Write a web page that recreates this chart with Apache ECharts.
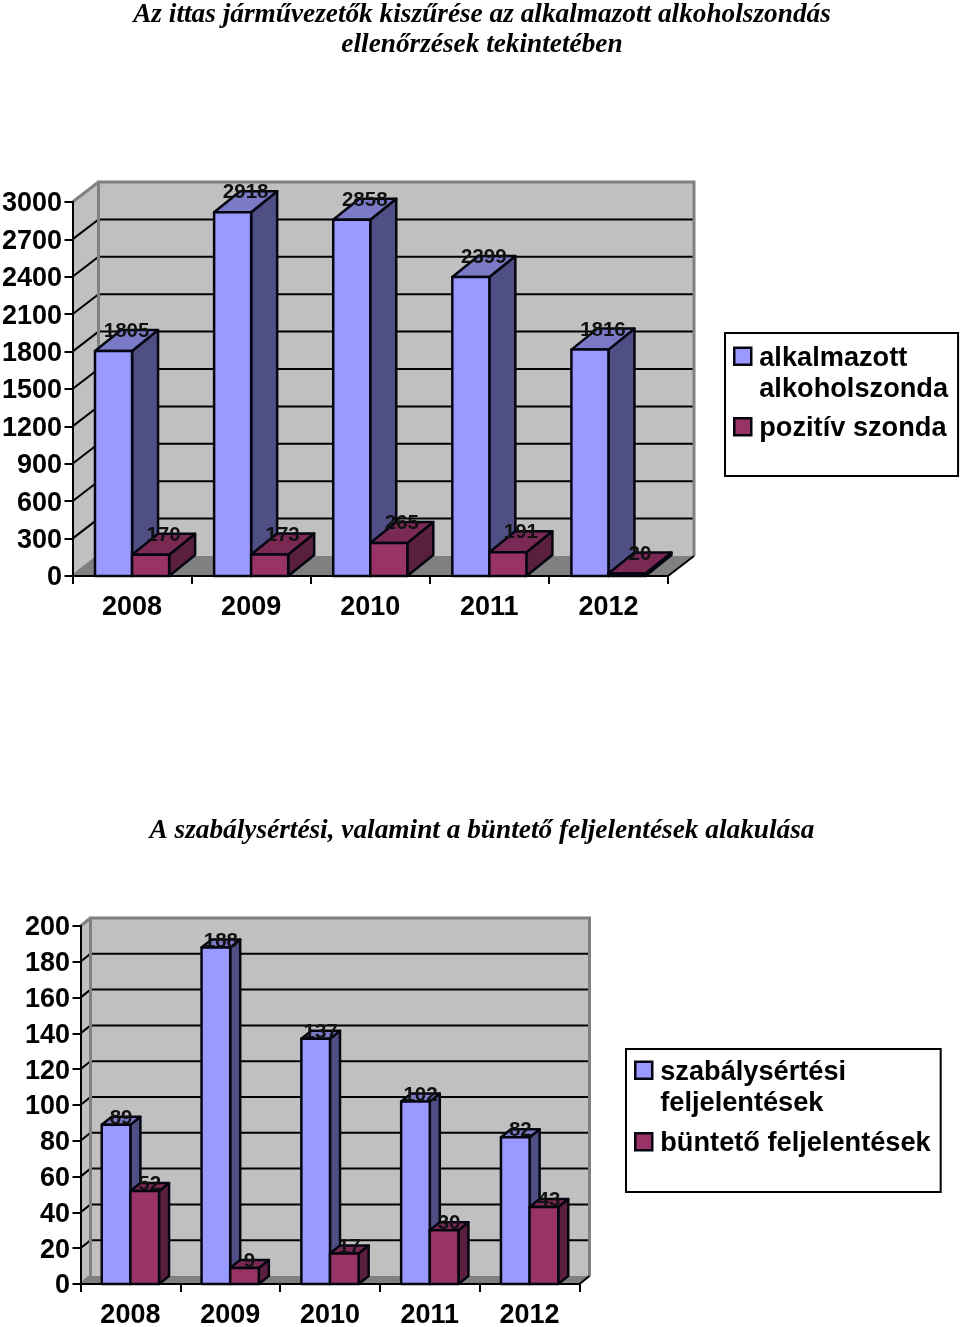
<!DOCTYPE html>
<html>
<head>
<meta charset="utf-8">
<style>
    html, body { margin: 0; padding: 0; background: #fff; }
    #chart { width: 960px; height: 1327px; }
</style>
<script src="https://cdn.jsdelivr.net/npm/echarts@6/dist/echarts.min.js"></script>
</head>
<body>
<div id="chart"></div>
<script>
const years = ['2008', '2009', '2010', '2011', '2012'];

// upper chart
const alkalmazott = [1805, 2918, 2858, 2399, 1816];
const pozitiv = [170, 173, 265, 191, 20];
const ticksTop = [0, 300, 600, 900, 1200, 1500, 1800, 2100, 2400, 2700, 3000];

// lower chart
const szabalysertesi = [89, 188, 137, 102, 82];
const bunteto = [52, 9, 17, 30, 43];
const ticksBottom = [0, 20, 40, 60, 80, 100, 120, 140, 160, 180, 200];

const FONT = '"Liberation Sans", Arial, sans-serif';
const BLUE = { front: '#9999ff', side: '#4f4f85', top: '#7a7ac6' };
const RED = { front: '#993366', side: '#5a1f3e', top: '#7a2955' };

// back wall, side wall, floor and the grid lines, all hung on the axis scales
function wallSeries(axisIndex, ticks, dx, dy) {
    return {
        type: 'custom',
        xAxisIndex: axisIndex,
        yAxisIndex: axisIndex,
        z: 1,
        silent: true,
        data: [[0, 0]],
        encode: { x: 0, y: 1 },
        renderItem(params, api) {
            const band = api.size([1, 0])[0];
            const x0 = api.coord([0, 0])[0] - band / 2;
            const x1 = x0 + band * years.length;
            const y0 = api.coord([0, ticks[0]])[1];
            const y1 = api.coord([0, ticks[ticks.length - 1]])[1];
            const children = [
                { type: 'polygon', shape: { points: [[x0, y0], [x1, y0], [x1 + dx, y0 + dy], [x0 + dx, y0 + dy]] }, style: { fill: '#808080' } },
                { type: 'polygon', shape: { points: [[x0, y0], [x0 + dx, y0 + dy], [x0 + dx, y1 + dy], [x0, y1]] }, style: { fill: '#c0c0c0' } },
                { type: 'polygon', shape: { points: [[x0 + dx, y0 + dy], [x1 + dx, y0 + dy], [x1 + dx, y1 + dy], [x0 + dx, y1 + dy]] }, style: { fill: '#c0c0c0' } }
            ];
            ticks.slice(1, -1).forEach(t => {
                const y = api.coord([0, t])[1];
                children.push({ type: 'polyline', shape: { points: [[x0, y], [x0 + dx, y + dy], [x1 + dx, y + dy]] }, style: { fill: null, stroke: '#000', lineWidth: 2 } });
            });
            children.push(
                { type: 'polyline', shape: { points: [[x0, y0], [x0 + dx, y0 + dy], [x0 + dx, y1 + dy], [x1 + dx, y1 + dy], [x1 + dx, y0 + dy]] }, style: { fill: null, stroke: '#808080', lineWidth: 3 } },
                { type: 'polyline', shape: { points: [[x0, y1], [x0 + dx, y1 + dy]] }, style: { fill: null, stroke: '#808080', lineWidth: 3 } },
                { type: 'polyline', shape: { points: [[x1, y0], [x1 + dx, y0 + dy]] }, style: { fill: null, stroke: '#000', lineWidth: 2 } }
            );
            return { type: 'group', children };
        }
    };
}

// one series of 3d-looking bars, side < 0 is left of the category centre
function barSeries(name, values, axisIndex, colors, side, ratio, dx, dy) {
    return {
        name,
        type: 'custom',
        xAxisIndex: axisIndex,
        yAxisIndex: axisIndex,
        z: 6,
        itemStyle: { color: colors.front },
        data: values.map((v, i) => [i, v]),
        encode: { x: 0, y: 1 },
        renderItem(params, api) {
            const top = api.coord([api.value(0), api.value(1)]);
            const base = api.coord([api.value(0), 0]);
            const w = api.size([1, 0])[0] * ratio;
            const xa = side < 0 ? top[0] - w : top[0];
            const xb = xa + w;
            const edge = { stroke: '#050510', lineWidth: 2.5, lineJoin: 'round' };
            return {
                type: 'group',
                children: [
                    { type: 'polygon', shape: { points: [[xb, base[1]], [xb + dx, base[1] + dy], [xb + dx, top[1] + dy], [xb, top[1]]] }, style: { fill: colors.side, ...edge } },
                    { type: 'polygon', shape: { points: [[xa, top[1]], [xb, top[1]], [xb + dx, top[1] + dy], [xa + dx, top[1] + dy]] }, style: { fill: colors.top, ...edge } },
                    { type: 'rect', shape: { x: xa, y: top[1], width: w, height: base[1] - top[1] }, style: { fill: colors.front, ...edge } },
                    { type: 'text', z2: 100, style: { x: (xa + xb + dx) / 2, y: top[1] + dy + 1.5, text: String(api.value(1)), align: 'center', verticalAlign: 'middle', fill: '#111', font: 'bold 20.5px ' + FONT } }
                ]
            };
        }
    };
}

// icons are as tall as two text lines, the square sits on the first line or in the middle
const iconFirstLine = 'path://M0 0L0 0M0 5H17V22H0ZM0 62L0 62';
const iconMiddle = 'path://M0 0L0 0M0 20.5H17V37.5H0ZM0 62L0 62';

function legendBox(left, top, names, pad, gap) {
    return {
        left,
        top,
        orient: 'vertical',
        selectedMode: false,
        itemWidth: 17,
        itemHeight: 62,
        itemGap: gap,
        padding: pad,
        borderColor: '#000',
        borderWidth: 2,
        backgroundColor: '#fff',
        itemStyle: { borderColor: '#050510', borderWidth: 2.5 },
        textStyle: { fontFamily: FONT, fontSize: 27.2, fontWeight: 'bold', color: '#000', lineHeight: 31, padding: [0, 0, 0, 3] },
        data: [{ name: names[0], icon: iconFirstLine }, { name: names[1], icon: iconMiddle }]
    };
}

function xAxis(gridIndex) {
    return {
        type: 'category',
        gridIndex,
        data: years,
        z: 5,
        axisLine: { lineStyle: { color: '#000', width: 2 } },
        axisTick: { show: true, length: 8, lineStyle: { color: '#000', width: 2 } },
        axisLabel: { color: '#000', fontFamily: FONT, fontSize: 27, fontWeight: 'bold', margin: 18, interval: 0 }
    };
}

function yAxis(gridIndex, ticks) {
    return {
        type: 'value',
        gridIndex,
        min: ticks[0],
        max: ticks[ticks.length - 1],
        interval: ticks[1] - ticks[0],
        z: 5,
        splitLine: { show: false },
        axisLine: { show: true, lineStyle: { color: '#000', width: 2 } },
        axisTick: { show: true, length: 8, lineStyle: { color: '#000', width: 2 } },
        axisLabel: {
            margin: 10.5,
            formatter: v => '{n|' + v + '}',
            rich: { n: { color: '#000', fontFamily: FONT, fontSize: 27, fontWeight: 'bold', padding: [4, 0, 0, 0] } }
        }
    };
}

const titleStyle = { fontFamily: '"Liberation Serif", "Times New Roman", serif', fontSize: 27.3, fontWeight: 'bold', fontStyle: 'italic', color: '#000', lineHeight: 30 };

const chart = echarts.init(document.getElementById('chart'));
chart.setOption({
    animation: false,
    backgroundColor: '#fff',
    title: [
        { text: 'Az ittas járművezetők kiszűrése az alkalmazott alkoholszondás\nellenőrzések tekintetében', left: 477, top: -5, textAlign: 'center', textStyle: titleStyle },
        { text: 'A szabálysértési, valamint a büntető feljelentések alakulása', left: 477, top: 811, textAlign: 'center', textStyle: titleStyle }
    ],
    legend: [
        legendBox(725, 333, ['alkalmazott\nalkoholszonda', 'pozitív szonda'], [8.5, 10, 15, 8], -9.5),
        legendBox(626, 1049, ['szabálysértési\nfeljelentések', 'büntető feljelentések'], [6.5, 10, 16, 8], -8.5)
    ],
    grid: [
        { left: 72.5, top: 202, width: 595.5, height: 374, outerBoundsMode: 'none' },
        { left: 80.5, top: 926, width: 499, height: 358, outerBoundsMode: 'none' }
    ],
    xAxis: [xAxis(0), xAxis(1)],
    yAxis: [yAxis(0, ticksTop), yAxis(1, ticksBottom)],
    series: [
        wallSeries(0, ticksTop, 26, -20),
        barSeries('alkalmazott\nalkoholszonda', alkalmazott, 0, BLUE, -1, 0.311, 26, -21),
        barSeries('pozitív szonda', pozitiv, 0, RED, 1, 0.311, 26, -21),
        wallSeries(1, ticksBottom, 10, -8),
        barSeries('szabálysértési\nfeljelentések', szabalysertesi, 1, BLUE, -1, 0.287, 10, -8),
        barSeries('büntető feljelentések', bunteto, 1, RED, 1, 0.287, 10, -8)
    ]
});
</script>
</body>
</html>
